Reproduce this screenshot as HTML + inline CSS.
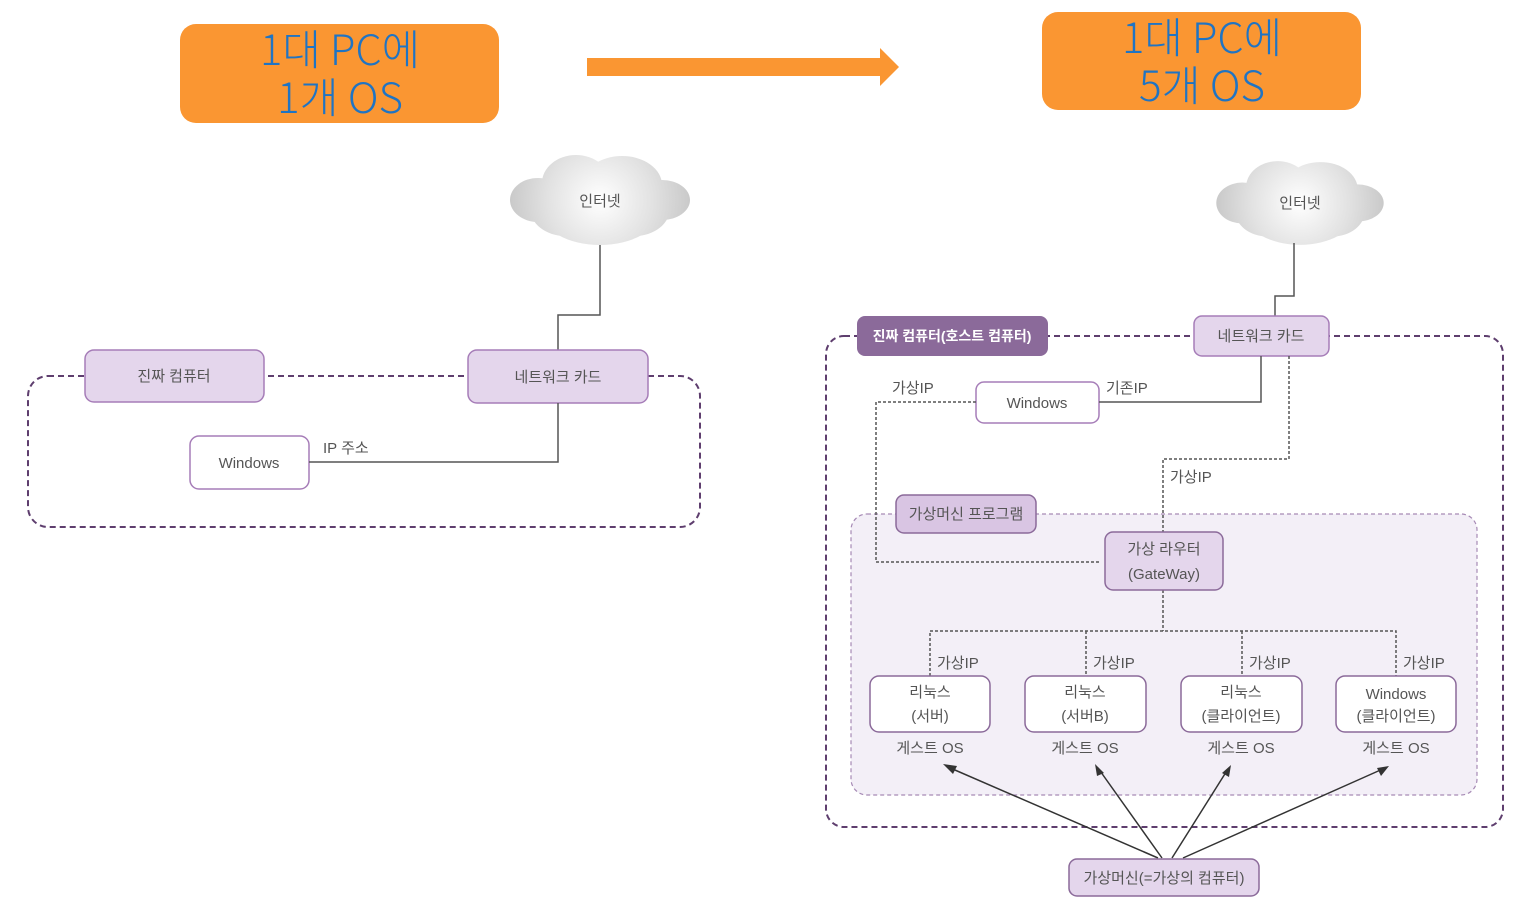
<!DOCTYPE html>
<html><head><meta charset="utf-8"><style>
html,body{margin:0;padding:0;background:#fff;}
svg{display:block;}
.t{font-family:"Noto Sans CJK KR","Liberation Sans",sans-serif;font-weight:300;fill:#1F74C4;font-size:42px;}
.k{font-family:"Liberation Sans","Noto Sans CJK KR",sans-serif;font-size:15px;fill:#555;}
.w{fill:#ffffff;font-weight:bold;font-size:14px;}
</style></head><body>
<svg width="1526" height="898" viewBox="0 0 1526 898" xmlns="http://www.w3.org/2000/svg">
<defs>
<radialGradient id="cg" gradientUnits="userSpaceOnUse" cx="0" cy="0" r="95">
<stop offset="0" stop-color="#ffffff"/><stop offset="0.55" stop-color="#e2e2e2"/><stop offset="1" stop-color="#c6c6c6"/>
</radialGradient>
<g id="cloud">
<ellipse cx="-62" cy="0" rx="28" ry="22"/>
<ellipse cx="62" cy="0" rx="28" ry="20"/>
<ellipse cx="-24" cy="-17" rx="34" ry="28"/>
<ellipse cx="22" cy="-15" rx="40" ry="29"/>
<ellipse cx="0" cy="12" rx="58" ry="33"/>
<ellipse cx="-35" cy="8" rx="35" ry="28"/>
<ellipse cx="35" cy="8" rx="35" ry="28"/>
</g>
</defs>

<rect x="180" y="24" width="319" height="99" rx="16" fill="#FA9632"/>
<text class="t" x="340" y="65" text-anchor="middle" textLength="160" lengthAdjust="spacingAndGlyphs">1대 PC에</text>
<text class="t" x="340" y="113" text-anchor="middle" textLength="126" lengthAdjust="spacingAndGlyphs">1개 OS</text>
<rect x="1042" y="12" width="319" height="98" rx="16" fill="#FA9632"/>
<text class="t" x="1202" y="53" text-anchor="middle" textLength="160" lengthAdjust="spacingAndGlyphs">1대 PC에</text>
<text class="t" x="1202" y="101" text-anchor="middle" textLength="126" lengthAdjust="spacingAndGlyphs">5개 OS</text>
<rect x="587" y="58" width="296" height="18" fill="#FA9632"/>
<polygon points="880,48 899,67 880,86" fill="#FA9632"/>

<!-- LEFT -->
<g fill="url(#cg)" transform="translate(600,200)"><use href="#cloud"/></g>
<text class="k" x="600" y="206" text-anchor="middle">인터넷</text>
<polyline points="600,245 600,315 558,315 558,350" fill="none" stroke="#555" stroke-width="1.5"/>
<rect x="28" y="376" width="672" height="151" rx="20" fill="none" stroke="#5E3E6E" stroke-width="2" stroke-dasharray="6,4"/>
<rect x="85" y="350" width="179" height="52" rx="9" fill="#E4D6EC" stroke="#A67DB8" stroke-width="1.5"/>
<text class="k" x="174" y="381" text-anchor="middle">진짜 컴퓨터</text>
<rect x="468" y="350" width="180" height="53" rx="9" fill="#E4D6EC" stroke="#A67DB8" stroke-width="1.5"/>
<text class="k" x="558" y="382" text-anchor="middle">네트워크 카드</text>
<rect x="190" y="436" width="119" height="53" rx="9" fill="#fff" stroke="#A67DB8" stroke-width="1.5"/>
<text class="k" x="249" y="468" text-anchor="middle" font-size="16">Windows</text>
<polyline points="309,462 558,462 558,403" fill="none" stroke="#555" stroke-width="1.5"/>
<text class="k" x="323" y="453">IP 주소</text>

<!-- RIGHT -->
<g fill="url(#cg)" transform="translate(1300,203) scale(0.93)"><use href="#cloud"/></g>
<text class="k" x="1300" y="208" text-anchor="middle">인터넷</text>
<polyline points="1294,243 1294,296 1275,296 1275,316" fill="none" stroke="#555" stroke-width="1.5"/>
<rect x="826" y="336" width="677" height="491" rx="18" fill="none" stroke="#5E3E6E" stroke-width="2" stroke-dasharray="6,4"/>
<rect x="851" y="514" width="626" height="281" rx="16" fill="#F3EFF7" stroke="#A68AB5" stroke-width="1.2" stroke-dasharray="4,3"/>
<rect x="857" y="316" width="191" height="40" rx="8" fill="#8B6A9A"/>
<text class="k w" x="952" y="341" text-anchor="middle">진짜 컴퓨터(호스트 컴퓨터)</text>
<rect x="1194" y="316" width="135" height="40" rx="8" fill="#E4D6EC" stroke="#A67DB8" stroke-width="1.5"/>
<text class="k" x="1261" y="341" text-anchor="middle">네트워크 카드</text>
<rect x="976" y="382" width="123" height="41" rx="8" fill="#fff" stroke="#A67DB8" stroke-width="1.5"/>
<text class="k" x="1037" y="408" text-anchor="middle" font-size="16">Windows</text>
<polyline points="1099,402 1261,402 1261,356" fill="none" stroke="#555" stroke-width="1.5"/>
<text class="k" x="892" y="393">가상IP</text>
<text class="k" x="1106" y="393">기존IP</text>
<g fill="none" stroke="#555" stroke-width="1.5" stroke-dasharray="3,2">
<polyline points="976,402 876,402 876,562 1100,562"/>
<polyline points="1289,356 1289,459 1163,459 1163,532"/>
<polyline points="1163,590 1163,631"/>
<polyline points="930,676 930,631 1396,631 1396,676"/>
<line x1="1086" y1="631" x2="1086" y2="676"/>
<line x1="1242" y1="631" x2="1242" y2="676"/>
</g>
<text class="k" x="1170" y="482">가상IP</text>
<rect x="896" y="495" width="140" height="38" rx="8" fill="#D9C5E3" stroke="#8B6A9A" stroke-width="1.5"/>
<text class="k" x="966" y="519" text-anchor="middle">가상머신 프로그램</text>
<rect x="1105" y="532" width="118" height="58" rx="8" fill="#E4D6EC" stroke="#8B6A9A" stroke-width="1.5"/>
<text class="k" x="1164" y="554" text-anchor="middle">가상 라우터</text>
<text class="k" x="1164" y="579" text-anchor="middle">(GateWay)</text>

<text class="k" x="937" y="668">가상IP</text>
<text class="k" x="1093" y="668">가상IP</text>
<text class="k" x="1249" y="668">가상IP</text>
<text class="k" x="1403" y="668">가상IP</text>
<rect x="870" y="676" width="120" height="56" rx="9" fill="#fff" stroke="#8B6A9A" stroke-width="1.5"/>
<rect x="1025" y="676" width="121" height="56" rx="9" fill="#fff" stroke="#8B6A9A" stroke-width="1.5"/>
<rect x="1181" y="676" width="121" height="56" rx="9" fill="#fff" stroke="#8B6A9A" stroke-width="1.5"/>
<rect x="1336" y="676" width="120" height="56" rx="9" fill="#fff" stroke="#8B6A9A" stroke-width="1.5"/>
<text class="k" x="930" y="697" text-anchor="middle">리눅스</text>
<text class="k" x="930" y="721" text-anchor="middle">(서버)</text>
<text class="k" x="1085" y="697" text-anchor="middle">리눅스</text>
<text class="k" x="1085" y="721" text-anchor="middle">(서버B)</text>
<text class="k" x="1241" y="697" text-anchor="middle">리눅스</text>
<text class="k" x="1241" y="721" text-anchor="middle">(클라이언트)</text>
<text class="k" x="1396" y="699" text-anchor="middle" font-size="16">Windows</text>
<text class="k" x="1396" y="721" text-anchor="middle">(클라이언트)</text>
<text class="k" x="930" y="753" text-anchor="middle">게스트 OS</text>
<text class="k" x="1085" y="753" text-anchor="middle">게스트 OS</text>
<text class="k" x="1241" y="753" text-anchor="middle">게스트 OS</text>
<text class="k" x="1396" y="753" text-anchor="middle">게스트 OS</text>

<g stroke="#333" stroke-width="1.5" fill="none">
<line x1="1158" y1="858" x2="948" y2="767"/>
<line x1="1162" y1="858" x2="1098" y2="768"/>
<line x1="1172" y1="858" x2="1228" y2="769"/>
<line x1="1183" y1="858" x2="1385" y2="768"/>
</g>
<g fill="#333">
<polygon points="943,764 957,766 953,774"/>
<polygon points="1095,764 1104,773 1097,776"/>
<polygon points="1231,765 1229,777 1222,773"/>
<polygon points="1389,766 1381,776 1377,768"/>
</g>
<rect x="1069" y="859" width="190" height="37" rx="8" fill="#E4D6EC" stroke="#8B6A9A" stroke-width="1.5"/>
<text class="k" x="1164" y="883" text-anchor="middle">가상머신(=가상의 컴퓨터)</text>
</svg>
</body></html>
